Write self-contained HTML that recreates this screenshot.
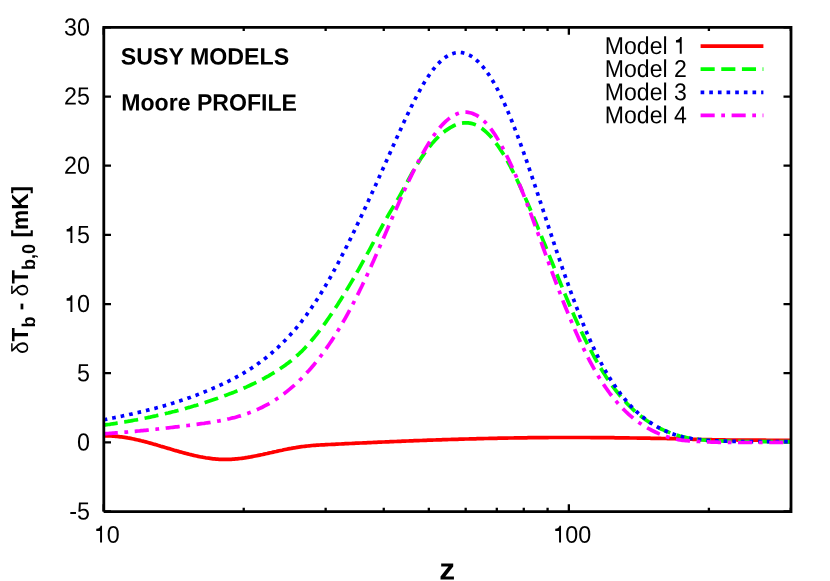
<!DOCTYPE html>
<html><head><meta charset="utf-8"><title>plot</title>
<style>
html,body{margin:0;padding:0;background:#fff;}
svg{display:block;}
text{font-family:"Liberation Sans",sans-serif;font-size:23.3px;fill:#000;text-rendering:geometricPrecision;}
svg{will-change:transform;}
.b{font-weight:bold;}
</style></head><body>
<svg width="830" height="581" viewBox="0 0 830 581">
<rect x="0" y="0" width="830" height="581" fill="#ffffff"/>
<path d="M103.7,511.50h7.3 M790.8,511.50h-7.3 M103.7,442.34h7.3 M790.8,442.34h-7.3 M103.7,373.19h7.3 M790.8,373.19h-7.3 M103.7,304.03h7.3 M790.8,304.03h-7.3 M103.7,234.87h7.3 M790.8,234.87h-7.3 M103.7,165.71h7.3 M790.8,165.71h-7.3 M103.7,96.56h7.3 M790.8,96.56h-7.3 M103.7,27.40h7.3 M790.8,27.40h-7.3 M103.70,511.5v-7.3 M103.70,27.4v7.3 M243.73,511.5v-3.7 M243.73,27.4v3.7 M325.64,511.5v-3.7 M325.64,27.4v3.7 M383.76,511.5v-3.7 M383.76,27.4v3.7 M428.83,511.5v-3.7 M428.83,27.4v3.7 M465.67,511.5v-3.7 M465.67,27.4v3.7 M496.81,511.5v-3.7 M496.81,27.4v3.7 M523.78,511.5v-3.7 M523.78,27.4v3.7 M547.58,511.5v-3.7 M547.58,27.4v3.7 M568.86,511.5v-7.3 M568.86,27.4v7.3 M708.89,511.5v-3.7 M708.89,27.4v3.7 M790.80,511.5v-3.7 M790.80,27.4v3.7" stroke="#000" stroke-width="2.3" fill="none"/>
<g>

<path d="M103.7,435.9 L105.2,435.9 L106.7,435.9 L108.2,435.9 L109.7,435.9 L111.2,436.0 L112.7,436.1 L114.2,436.2 L115.7,436.3 L117.2,436.4 L118.7,436.6 L120.2,436.8 L121.7,436.9 L123.2,437.2 L124.7,437.4 L126.2,437.6 L127.7,437.9 L129.2,438.1 L130.7,438.4 L132.2,438.7 L133.7,439.0 L135.2,439.4 L136.7,439.7 L138.2,440.0 L139.7,440.4 L141.2,440.8 L142.7,441.1 L144.2,441.5 L145.7,441.9 L147.2,442.3 L148.7,442.7 L150.2,443.1 L151.7,443.5 L153.2,444.0 L154.7,444.4 L156.2,444.8 L157.7,445.3 L159.2,445.7 L160.7,446.2 L162.2,446.6 L163.7,447.0 L165.2,447.5 L166.7,447.9 L168.2,448.4 L169.7,448.8 L171.2,449.3 L172.7,449.7 L174.2,450.2 L175.7,450.6 L177.2,451.0 L178.7,451.4 L180.2,451.9 L181.7,452.3 L183.2,452.7 L184.7,453.1 L186.2,453.5 L187.7,453.9 L189.2,454.3 L190.7,454.6 L192.2,455.0 L193.7,455.4 L195.2,455.7 L196.7,456.0 L198.2,456.4 L199.7,456.7 L201.2,457.0 L202.7,457.2 L204.2,457.5 L205.7,457.8 L207.2,458.0 L208.7,458.2 L210.2,458.4 L211.7,458.6 L213.2,458.8 L214.7,458.9 L216.2,459.1 L217.7,459.2 L219.2,459.3 L220.7,459.3 L222.2,459.4 L223.7,459.4 L225.2,459.4 L226.7,459.4 L228.2,459.4 L229.7,459.3 L231.2,459.3 L232.7,459.2 L234.2,459.1 L235.7,458.9 L237.2,458.8 L238.7,458.6 L240.2,458.5 L241.7,458.3 L243.2,458.1 L244.7,457.9 L246.2,457.6 L247.7,457.4 L249.2,457.1 L250.7,456.9 L252.2,456.6 L253.7,456.3 L255.2,456.0 L256.7,455.7 L258.2,455.4 L259.7,455.1 L261.2,454.8 L262.7,454.5 L264.2,454.1 L265.7,453.8 L267.2,453.5 L268.7,453.1 L270.2,452.8 L271.7,452.5 L273.2,452.1 L274.7,451.8 L276.2,451.5 L277.7,451.1 L279.2,450.8 L280.7,450.5 L282.2,450.2 L283.7,449.8 L285.2,449.5 L286.7,449.2 L288.2,448.9 L289.7,448.6 L291.2,448.4 L292.7,448.1 L294.2,447.8 L295.7,447.6 L297.2,447.3 L298.7,447.1 L300.2,446.9 L301.7,446.7 L303.2,446.5 L304.7,446.3 L306.2,446.1 L307.7,446.0 L309.2,445.8 L310.7,445.7 L312.2,445.5 L313.7,445.4 L315.2,445.3 L316.7,445.2 L318.2,445.1 L319.7,445.0 L321.2,444.9 L322.7,444.9 L324.2,444.8 L325.7,444.7 L327.2,444.6 L328.7,444.5 L330.2,444.5 L331.7,444.4 L333.2,444.3 L334.7,444.3 L336.2,444.2 L337.7,444.1 L339.2,444.0 L340.7,444.0 L342.2,443.9 L343.7,443.8 L345.2,443.7 L346.7,443.7 L348.2,443.6 L349.7,443.5 L351.2,443.5 L352.7,443.4 L354.2,443.3 L355.7,443.2 L357.2,443.2 L358.7,443.1 L360.2,443.0 L361.7,443.0 L363.2,442.9 L364.7,442.8 L366.2,442.8 L367.7,442.7 L369.2,442.6 L370.7,442.6 L372.2,442.5 L373.7,442.4 L375.2,442.4 L376.7,442.3 L378.2,442.2 L379.7,442.2 L381.2,442.1 L382.7,442.0 L384.2,442.0 L385.7,441.9 L387.2,441.8 L388.7,441.8 L390.2,441.7 L391.7,441.6 L393.2,441.6 L394.7,441.5 L396.2,441.5 L397.7,441.4 L399.2,441.3 L400.7,441.3 L402.2,441.2 L403.7,441.2 L405.2,441.1 L406.7,441.0 L408.2,441.0 L409.7,440.9 L411.2,440.9 L412.7,440.8 L414.2,440.7 L415.7,440.7 L417.2,440.6 L418.7,440.6 L420.2,440.5 L421.7,440.5 L423.2,440.4 L424.7,440.4 L426.2,440.3 L427.7,440.2 L429.2,440.2 L430.7,440.1 L432.2,440.1 L433.7,440.0 L435.2,440.0 L436.7,439.9 L438.2,439.9 L439.7,439.8 L441.2,439.8 L442.7,439.7 L444.2,439.7 L445.7,439.6 L447.2,439.6 L448.7,439.5 L450.2,439.5 L451.7,439.4 L453.2,439.4 L454.7,439.3 L456.2,439.3 L457.7,439.3 L459.2,439.2 L460.7,439.2 L462.2,439.1 L463.7,439.1 L465.2,439.0 L466.7,439.0 L468.2,439.0 L469.7,438.9 L471.2,438.9 L472.7,438.8 L474.2,438.8 L475.7,438.8 L477.2,438.7 L478.7,438.7 L480.2,438.6 L481.7,438.6 L483.2,438.6 L484.7,438.5 L486.2,438.5 L487.7,438.5 L489.2,438.4 L490.7,438.4 L492.2,438.4 L493.7,438.3 L495.2,438.3 L496.7,438.3 L498.2,438.2 L499.7,438.2 L501.2,438.2 L502.7,438.1 L504.2,438.1 L505.7,438.1 L507.2,438.1 L508.7,438.0 L510.2,438.0 L511.7,438.0 L513.2,438.0 L514.7,437.9 L516.2,437.9 L517.7,437.9 L519.2,437.9 L520.7,437.8 L522.2,437.8 L523.7,437.8 L525.2,437.8 L526.7,437.8 L528.2,437.7 L529.7,437.7 L531.2,437.7 L532.7,437.7 L534.2,437.7 L535.7,437.7 L537.2,437.6 L538.7,437.6 L540.2,437.6 L541.7,437.6 L543.2,437.6 L544.7,437.6 L546.2,437.6 L547.7,437.6 L549.2,437.5 L550.7,437.5 L552.2,437.5 L553.7,437.5 L555.2,437.5 L556.7,437.5 L558.2,437.5 L559.7,437.5 L561.2,437.5 L562.7,437.5 L564.2,437.5 L565.7,437.5 L567.2,437.5 L568.7,437.5 L570.2,437.5 L571.7,437.5 L573.2,437.5 L574.7,437.5 L576.2,437.5 L577.7,437.5 L579.2,437.5 L580.7,437.5 L582.2,437.5 L583.7,437.5 L585.2,437.5 L586.7,437.5 L588.2,437.5 L589.7,437.5 L591.2,437.6 L592.7,437.6 L594.2,437.6 L595.7,437.6 L597.2,437.6 L598.7,437.6 L600.2,437.6 L601.7,437.6 L603.2,437.6 L604.7,437.7 L606.2,437.7 L607.7,437.7 L609.2,437.7 L610.7,437.7 L612.2,437.7 L613.7,437.7 L615.2,437.8 L616.7,437.8 L618.2,437.8 L619.7,437.8 L621.2,437.8 L622.7,437.9 L624.2,437.9 L625.7,437.9 L627.2,437.9 L628.7,437.9 L630.2,438.0 L631.7,438.0 L633.2,438.0 L634.7,438.0 L636.2,438.0 L637.7,438.1 L639.2,438.1 L640.7,438.1 L642.2,438.1 L643.7,438.2 L645.2,438.2 L646.7,438.2 L648.2,438.2 L649.7,438.2 L651.2,438.3 L652.7,438.3 L654.2,438.3 L655.7,438.3 L657.2,438.4 L658.7,438.4 L660.2,438.4 L661.7,438.5 L663.2,438.5 L664.7,438.5 L666.2,438.5 L667.7,438.6 L669.2,438.6 L670.7,438.6 L672.2,438.6 L673.7,438.7 L675.2,438.7 L676.7,438.8 L678.2,438.8 L679.7,438.8 L681.2,438.9 L682.7,438.9 L684.2,439.0 L685.7,439.0 L687.2,439.1 L688.7,439.1 L690.2,439.2 L691.7,439.2 L693.2,439.3 L694.7,439.3 L696.2,439.4 L697.7,439.4 L699.2,439.5 L700.7,439.5 L702.2,439.5 L703.7,439.6 L705.2,439.6 L706.7,439.6 L708.2,439.7 L709.7,439.7 L711.2,439.7 L712.7,439.8 L714.2,439.8 L715.7,439.8 L717.2,439.9 L718.7,439.9 L720.2,439.9 L721.7,439.9 L723.2,439.9 L724.7,439.9 L726.2,440.0 L727.7,440.0 L729.2,440.0 L730.7,440.0 L732.2,440.0 L733.7,440.0 L735.2,440.0 L736.7,440.0 L738.2,440.1 L739.7,440.1 L741.2,440.1 L742.7,440.1 L744.2,440.1 L745.7,440.1 L747.2,440.1 L748.7,440.1 L750.2,440.1 L751.7,440.2 L753.2,440.2 L754.7,440.2 L756.2,440.2 L757.7,440.2 L759.2,440.2 L760.7,440.2 L762.2,440.2 L763.7,440.2 L765.2,440.2 L766.7,440.3 L768.2,440.3 L769.7,440.3 L771.2,440.3 L772.7,440.3 L774.2,440.3 L775.7,440.3 L777.2,440.3 L778.7,440.3 L780.2,440.3 L781.7,440.3 L783.2,440.4 L784.7,440.4 L786.2,440.4 L787.7,440.4 L789.2,440.4 L790.7,440.4 L790.8,440.4" fill="none" stroke="#ff0000" stroke-width="3.7" stroke-linejoin="round"/>
<path d="M103.7,425.1 L105.2,424.9 L106.7,424.7 L108.2,424.5 L109.7,424.3 L111.2,424.0 L112.7,423.8 L114.2,423.6 L115.7,423.4 L117.2,423.1 L118.7,422.9 L120.2,422.6 L121.7,422.4 L123.2,422.1 L124.7,421.9 L126.2,421.6 L127.7,421.4 L129.2,421.1 L130.7,420.9 L132.2,420.6 L133.7,420.3 L135.2,420.0 L136.7,419.8 L138.2,419.5 L139.7,419.2 L141.2,418.9 L142.7,418.6 L144.2,418.3 L145.7,418.0 L147.2,417.7 L148.7,417.4 L150.2,417.1 L151.7,416.7 L153.2,416.4 L154.7,416.1 L156.2,415.8 L157.7,415.4 L159.2,415.1 L160.7,414.7 L162.2,414.4 L163.7,414.1 L165.2,413.7 L166.7,413.3 L168.2,413.0 L169.7,412.6 L171.2,412.2 L172.7,411.8 L174.2,411.5 L175.7,411.1 L177.2,410.7 L178.7,410.3 L180.2,409.9 L181.7,409.5 L183.2,409.1 L184.7,408.7 L186.2,408.2 L187.7,407.8 L189.2,407.4 L190.7,407.0 L192.2,406.5 L193.7,406.1 L195.2,405.6 L196.7,405.2 L198.2,404.7 L199.7,404.2 L201.2,403.8 L202.7,403.3 L204.2,402.8 L205.7,402.3 L207.2,401.8 L208.7,401.3 L210.2,400.8 L211.7,400.3 L213.2,399.8 L214.7,399.3 L216.2,398.8 L217.7,398.3 L219.2,397.7 L220.7,397.2 L222.2,396.6 L223.7,396.1 L225.2,395.5 L226.7,395.0 L228.2,394.4 L229.7,393.8 L231.2,393.3 L232.7,392.7 L234.2,392.1 L235.7,391.5 L237.2,390.9 L238.7,390.3 L240.2,389.6 L241.7,389.0 L243.2,388.4 L244.7,387.7 L246.2,387.1 L247.7,386.4 L249.2,385.7 L250.7,385.0 L252.2,384.3 L253.7,383.6 L255.2,382.9 L256.7,382.2 L258.2,381.4 L259.7,380.6 L261.2,379.9 L262.7,379.1 L264.2,378.3 L265.7,377.4 L267.2,376.6 L268.7,375.8 L270.2,374.9 L271.7,374.0 L273.2,373.1 L274.7,372.2 L276.2,371.2 L277.7,370.3 L279.2,369.3 L280.7,368.3 L282.2,367.3 L283.7,366.3 L285.2,365.2 L286.7,364.1 L288.2,363.0 L289.7,361.8 L291.2,360.7 L292.7,359.4 L294.2,358.2 L295.7,356.9 L297.2,355.5 L298.7,354.2 L300.2,352.7 L301.7,351.3 L303.2,349.8 L304.7,348.2 L306.2,346.6 L307.7,345.0 L309.2,343.3 L310.7,341.6 L312.2,339.8 L313.7,338.0 L315.2,336.2 L316.7,334.3 L318.2,332.4 L319.7,330.4 L321.2,328.4 L322.7,326.4 L324.2,324.4 L325.7,322.3 L327.2,320.2 L328.7,318.0 L330.2,315.8 L331.7,313.6 L333.2,311.4 L334.7,309.1 L336.2,306.8 L337.7,304.5 L339.2,302.1 L340.7,299.7 L342.2,297.3 L343.7,294.9 L345.2,292.4 L346.7,289.9 L348.2,287.4 L349.7,284.9 L351.2,282.4 L352.7,279.8 L354.2,277.2 L355.7,274.6 L357.2,271.9 L358.7,269.3 L360.2,266.6 L361.7,263.9 L363.2,261.2 L364.7,258.5 L366.2,255.8 L367.7,253.0 L369.2,250.3 L370.7,247.5 L372.2,244.7 L373.7,241.9 L375.2,239.1 L376.7,236.3 L378.2,233.5 L379.7,230.7 L381.2,228.0 L382.7,225.2 L384.2,222.5 L385.7,219.8 L387.2,217.1 L388.7,214.5 L390.2,211.9 L391.7,209.4 L393.2,206.9 L394.7,204.5 L396.2,202.0 L397.7,199.4 L399.2,196.8 L400.7,194.1 L402.2,191.4 L403.7,188.6 L405.2,185.8 L406.7,183.0 L408.2,180.2 L409.7,177.5 L411.2,174.7 L412.7,172.0 L414.2,169.4 L415.7,166.8 L417.2,164.3 L418.7,161.9 L420.2,159.6 L421.7,157.3 L423.2,155.1 L424.7,153.0 L426.2,150.9 L427.7,149.0 L429.2,147.0 L430.7,145.2 L432.2,143.4 L433.7,141.7 L435.2,140.1 L436.7,138.5 L438.2,137.0 L439.7,135.6 L441.2,134.3 L442.7,133.0 L444.2,131.8 L445.7,130.6 L447.2,129.6 L448.7,128.6 L450.2,127.6 L451.7,126.8 L453.2,126.0 L454.7,125.3 L456.2,124.7 L457.7,124.1 L459.2,123.7 L460.7,123.3 L462.2,123.1 L463.7,122.9 L465.2,122.8 L466.7,122.8 L468.2,122.9 L469.7,123.1 L471.2,123.4 L472.7,123.8 L474.2,124.3 L475.7,124.9 L477.2,125.6 L478.7,126.4 L480.2,127.3 L481.7,128.3 L483.2,129.5 L484.7,130.7 L486.2,132.0 L487.7,133.5 L489.2,135.0 L490.7,136.6 L492.2,138.4 L493.7,140.2 L495.2,142.1 L496.7,144.1 L498.2,146.2 L499.7,148.4 L501.2,150.7 L502.7,153.1 L504.2,155.5 L505.7,158.1 L507.2,160.7 L508.7,163.4 L510.2,166.2 L511.7,169.1 L513.2,172.0 L514.7,175.0 L516.2,178.1 L517.7,181.2 L519.2,184.4 L520.7,187.6 L522.2,190.9 L523.7,194.3 L525.2,197.6 L526.7,201.1 L528.2,204.5 L529.7,208.0 L531.2,211.5 L532.7,215.1 L534.2,218.7 L535.7,222.3 L537.2,225.9 L538.7,229.6 L540.2,233.2 L541.7,236.9 L543.2,240.6 L544.7,244.3 L546.2,248.0 L547.7,251.7 L549.2,255.4 L550.7,259.1 L552.2,262.8 L553.7,266.5 L555.2,270.2 L556.7,273.9 L558.2,277.6 L559.7,281.3 L561.2,285.0 L562.7,288.7 L564.2,292.3 L565.7,295.9 L567.2,299.5 L568.7,303.0 L570.2,306.6 L571.7,310.1 L573.2,313.5 L574.7,316.9 L576.2,320.3 L577.7,323.6 L579.2,326.9 L580.7,330.1 L582.2,333.3 L583.7,336.4 L585.2,339.5 L586.7,342.5 L588.2,345.4 L589.7,348.4 L591.2,351.2 L592.7,354.0 L594.2,356.8 L595.7,359.5 L597.2,362.1 L598.7,364.7 L600.2,367.3 L601.7,369.8 L603.2,372.2 L604.7,374.6 L606.2,376.9 L607.7,379.1 L609.2,381.3 L610.7,383.5 L612.2,385.6 L613.7,387.6 L615.2,389.6 L616.7,391.5 L618.2,393.4 L619.7,395.2 L621.2,397.0 L622.7,398.8 L624.2,400.4 L625.7,402.1 L627.2,403.7 L628.7,405.2 L630.2,406.7 L631.7,408.2 L633.2,409.6 L634.7,411.0 L636.2,412.3 L637.7,413.6 L639.2,414.8 L640.7,416.0 L642.2,417.2 L643.7,418.3 L645.2,419.4 L646.7,420.5 L648.2,421.5 L649.7,422.5 L651.2,423.4 L652.7,424.3 L654.2,425.2 L655.7,426.1 L657.2,426.9 L658.7,427.7 L660.2,428.5 L661.7,429.2 L663.2,429.9 L664.7,430.6 L666.2,431.2 L667.7,431.8 L669.2,432.4 L670.7,433.0 L672.2,433.6 L673.7,434.1 L675.2,434.6 L676.7,435.1 L678.2,435.5 L679.7,436.0 L681.2,436.3 L682.7,436.7 L684.2,437.0 L685.7,437.4 L687.2,437.7 L688.7,438.0 L690.2,438.3 L691.7,438.5 L693.2,438.8 L694.7,439.0 L696.2,439.2 L697.7,439.4 L699.2,439.5 L700.7,439.7 L702.2,439.9 L703.7,440.0 L705.2,440.2 L706.7,440.3 L708.2,440.4 L709.7,440.5 L711.2,440.6 L712.7,440.6 L714.2,440.7 L715.7,440.8 L717.2,440.8 L718.7,440.9 L720.2,441.0 L721.7,441.0 L723.2,441.1 L724.7,441.1 L726.2,441.2 L727.7,441.2 L729.2,441.2 L730.7,441.3 L732.2,441.3 L733.7,441.3 L735.2,441.4 L736.7,441.4 L738.2,441.4 L739.7,441.4 L741.2,441.5 L742.7,441.5 L744.2,441.5 L745.7,441.5 L747.2,441.5 L748.7,441.6 L750.2,441.6 L751.7,441.6 L753.2,441.6 L754.7,441.6 L756.2,441.6 L757.7,441.6 L759.2,441.6 L760.7,441.6 L762.2,441.6 L763.7,441.6 L765.2,441.6 L766.7,441.6 L768.2,441.6 L769.7,441.6 L771.2,441.6 L772.7,441.6 L774.2,441.6 L775.7,441.6 L777.2,441.6 L778.7,441.6 L780.2,441.6 L781.7,441.6 L783.2,441.6 L784.7,441.6 L786.2,441.6 L787.7,441.6 L789.2,441.6 L790.7,441.6 L790.8,441.6" fill="none" stroke="#00ff00" stroke-width="3.7" stroke-dasharray="14.15 6.57"/>
<path d="M103.7,419.8 L105.2,419.5 L106.7,419.2 L108.2,418.9 L109.7,418.6 L111.2,418.3 L112.7,418.0 L114.2,417.7 L115.7,417.4 L117.2,417.1 L118.7,416.8 L120.2,416.5 L121.7,416.2 L123.2,415.8 L124.7,415.5 L126.2,415.2 L127.7,414.9 L129.2,414.5 L130.7,414.2 L132.2,413.9 L133.7,413.5 L135.2,413.2 L136.7,412.8 L138.2,412.5 L139.7,412.1 L141.2,411.8 L142.7,411.4 L144.2,411.0 L145.7,410.7 L147.2,410.3 L148.7,409.9 L150.2,409.5 L151.7,409.1 L153.2,408.7 L154.7,408.4 L156.2,407.9 L157.7,407.5 L159.2,407.1 L160.7,406.7 L162.2,406.3 L163.7,405.9 L165.2,405.4 L166.7,405.0 L168.2,404.5 L169.7,404.1 L171.2,403.6 L172.7,403.2 L174.2,402.7 L175.7,402.2 L177.2,401.8 L178.7,401.3 L180.2,400.8 L181.7,400.3 L183.2,399.8 L184.7,399.3 L186.2,398.8 L187.7,398.2 L189.2,397.7 L190.7,397.2 L192.2,396.6 L193.7,396.1 L195.2,395.5 L196.7,395.0 L198.2,394.4 L199.7,393.8 L201.2,393.2 L202.7,392.6 L204.2,392.0 L205.7,391.4 L207.2,390.8 L208.7,390.2 L210.2,389.6 L211.7,388.9 L213.2,388.3 L214.7,387.6 L216.2,387.0 L217.7,386.3 L219.2,385.6 L220.7,384.9 L222.2,384.2 L223.7,383.5 L225.2,382.8 L226.7,382.1 L228.2,381.4 L229.7,380.6 L231.2,379.9 L232.7,379.1 L234.2,378.3 L235.7,377.5 L237.2,376.7 L238.7,375.9 L240.2,375.0 L241.7,374.2 L243.2,373.3 L244.7,372.4 L246.2,371.5 L247.7,370.6 L249.2,369.6 L250.7,368.7 L252.2,367.7 L253.7,366.7 L255.2,365.7 L256.7,364.7 L258.2,363.6 L259.7,362.5 L261.2,361.4 L262.7,360.3 L264.2,359.1 L265.7,358.0 L267.2,356.8 L268.7,355.5 L270.2,354.3 L271.7,353.0 L273.2,351.7 L274.7,350.4 L276.2,349.0 L277.7,347.7 L279.2,346.2 L280.7,344.8 L282.2,343.3 L283.7,341.8 L285.2,340.3 L286.7,338.7 L288.2,337.1 L289.7,335.5 L291.2,333.8 L292.7,332.1 L294.2,330.4 L295.7,328.7 L297.2,326.9 L298.7,325.0 L300.2,323.2 L301.7,321.3 L303.2,319.3 L304.7,317.3 L306.2,315.3 L307.7,313.2 L309.2,311.2 L310.7,309.0 L312.2,306.8 L313.7,304.6 L315.2,302.4 L316.7,300.1 L318.2,297.7 L319.7,295.3 L321.2,292.9 L322.7,290.4 L324.2,287.9 L325.7,285.4 L327.2,282.8 L328.7,280.2 L330.2,277.6 L331.7,274.9 L333.2,272.2 L334.7,269.4 L336.2,266.6 L337.7,263.8 L339.2,261.0 L340.7,258.1 L342.2,255.2 L343.7,252.3 L345.2,249.3 L346.7,246.3 L348.2,243.3 L349.7,240.3 L351.2,237.3 L352.7,234.2 L354.2,231.1 L355.7,228.0 L357.2,224.8 L358.7,221.7 L360.2,218.5 L361.7,215.3 L363.2,212.1 L364.7,208.9 L366.2,205.7 L367.7,202.4 L369.2,199.1 L370.7,195.9 L372.2,192.6 L373.7,189.3 L375.2,186.0 L376.7,182.7 L378.2,179.3 L379.7,176.0 L381.2,172.7 L382.7,169.3 L384.2,166.0 L385.7,162.6 L387.2,159.3 L388.7,155.9 L390.2,152.5 L391.7,149.2 L393.2,145.8 L394.7,142.5 L396.2,139.1 L397.7,135.8 L399.2,132.5 L400.7,129.2 L402.2,125.9 L403.7,122.6 L405.2,119.4 L406.7,116.2 L408.2,113.1 L409.7,110.0 L411.2,106.9 L412.7,103.9 L414.2,100.9 L415.7,98.0 L417.2,95.2 L418.7,92.4 L420.2,89.7 L421.7,87.0 L423.2,84.4 L424.7,81.9 L426.2,79.5 L427.7,77.2 L429.2,75.0 L430.7,72.8 L432.2,70.8 L433.7,68.8 L435.2,67.0 L436.7,65.3 L438.2,63.6 L439.7,62.1 L441.2,60.7 L442.7,59.4 L444.2,58.2 L445.7,57.1 L447.2,56.2 L448.7,55.3 L450.2,54.6 L451.7,53.9 L453.2,53.4 L454.7,53.0 L456.2,52.7 L457.7,52.6 L459.2,52.5 L460.7,52.5 L462.2,52.7 L463.7,53.0 L465.2,53.4 L466.7,53.9 L468.2,54.6 L469.7,55.3 L471.2,56.2 L472.7,57.1 L474.2,58.2 L475.7,59.4 L477.2,60.8 L478.7,62.2 L480.2,63.7 L481.7,65.4 L483.2,67.1 L484.7,69.0 L486.2,71.0 L487.7,73.1 L489.2,75.2 L490.7,77.6 L492.2,80.0 L493.7,82.5 L495.2,85.1 L496.7,87.8 L498.2,90.7 L499.7,93.6 L501.2,96.6 L502.7,99.8 L504.2,103.0 L505.7,106.4 L507.2,109.8 L508.7,113.4 L510.2,117.0 L511.7,120.7 L513.2,124.4 L514.7,128.3 L516.2,132.2 L517.7,136.2 L519.2,140.2 L520.7,144.3 L522.2,148.5 L523.7,152.7 L525.2,156.9 L526.7,161.2 L528.2,165.6 L529.7,170.0 L531.2,174.4 L532.7,178.8 L534.2,183.3 L535.7,187.8 L537.2,192.3 L538.7,196.8 L540.2,201.4 L541.7,205.9 L543.2,210.5 L544.7,215.1 L546.2,219.6 L547.7,224.2 L549.2,228.8 L550.7,233.3 L552.2,237.8 L553.7,242.4 L555.2,246.9 L556.7,251.4 L558.2,255.8 L559.7,260.2 L561.2,264.6 L562.7,269.0 L564.2,273.3 L565.7,277.6 L567.2,281.8 L568.7,286.0 L570.2,290.2 L571.7,294.3 L573.2,298.4 L574.7,302.4 L576.2,306.3 L577.7,310.2 L579.2,314.1 L580.7,317.8 L582.2,321.6 L583.7,325.3 L585.2,328.9 L586.7,332.4 L588.2,335.9 L589.7,339.3 L591.2,342.7 L592.7,345.9 L594.2,349.1 L595.7,352.3 L597.2,355.3 L598.7,358.3 L600.2,361.2 L601.7,364.1 L603.2,366.8 L604.7,369.5 L606.2,372.1 L607.7,374.7 L609.2,377.2 L610.7,379.6 L612.2,381.9 L613.7,384.2 L615.2,386.4 L616.7,388.6 L618.2,390.7 L619.7,392.7 L621.2,394.7 L622.7,396.6 L624.2,398.4 L625.7,400.2 L627.2,402.0 L628.7,403.6 L630.2,405.3 L631.7,406.9 L633.2,408.4 L634.7,409.9 L636.2,411.3 L637.7,412.7 L639.2,414.0 L640.7,415.3 L642.2,416.5 L643.7,417.7 L645.2,418.9 L646.7,420.0 L648.2,421.1 L649.7,422.1 L651.2,423.1 L652.7,424.1 L654.2,425.0 L655.7,425.9 L657.2,426.8 L658.7,427.6 L660.2,428.4 L661.7,429.2 L663.2,429.9 L664.7,430.6 L666.2,431.3 L667.7,432.0 L669.2,432.6 L670.7,433.2 L672.2,433.8 L673.7,434.3 L675.2,434.8 L676.7,435.3 L678.2,435.7 L679.7,436.1 L681.2,436.5 L682.7,436.9 L684.2,437.2 L685.7,437.5 L687.2,437.8 L688.7,438.1 L690.2,438.3 L691.7,438.6 L693.2,438.8 L694.7,439.0 L696.2,439.2 L697.7,439.4 L699.2,439.6 L700.7,439.7 L702.2,439.9 L703.7,440.0 L705.2,440.2 L706.7,440.3 L708.2,440.4 L709.7,440.5 L711.2,440.6 L712.7,440.6 L714.2,440.7 L715.7,440.8 L717.2,440.8 L718.7,440.9 L720.2,441.0 L721.7,441.0 L723.2,441.1 L724.7,441.1 L726.2,441.2 L727.7,441.2 L729.2,441.2 L730.7,441.3 L732.2,441.3 L733.7,441.3 L735.2,441.4 L736.7,441.4 L738.2,441.4 L739.7,441.4 L741.2,441.5 L742.7,441.5 L744.2,441.5 L745.7,441.5 L747.2,441.5 L748.7,441.6 L750.2,441.6 L751.7,441.6 L753.2,441.6 L754.7,441.6 L756.2,441.6 L757.7,441.6 L759.2,441.6 L760.7,441.6 L762.2,441.6 L763.7,441.6 L765.2,441.6 L766.7,441.6 L768.2,441.6 L769.7,441.6 L771.2,441.6 L772.7,441.6 L774.2,441.6 L775.7,441.6 L777.2,441.6 L778.7,441.6 L780.2,441.6 L781.7,441.6 L783.2,441.6 L784.7,441.6 L786.2,441.6 L787.7,441.6 L789.2,441.6 L790.7,441.6 L790.8,441.6" fill="none" stroke="#0000ff" stroke-width="3.7" stroke-dasharray="3.65 5.0"/>
<path d="M103.7,433.8 L105.2,433.7 L106.7,433.6 L108.2,433.5 L109.7,433.4 L111.2,433.3 L112.7,433.2 L114.2,433.1 L115.7,432.9 L117.2,432.8 L118.7,432.7 L120.2,432.6 L121.7,432.5 L123.2,432.3 L124.7,432.2 L126.2,432.1 L127.7,432.0 L129.2,431.8 L130.7,431.7 L132.2,431.6 L133.7,431.4 L135.2,431.3 L136.7,431.1 L138.2,431.0 L139.7,430.9 L141.2,430.7 L142.7,430.6 L144.2,430.4 L145.7,430.3 L147.2,430.1 L148.7,430.0 L150.2,429.8 L151.7,429.7 L153.2,429.5 L154.7,429.3 L156.2,429.2 L157.7,429.0 L159.2,428.8 L160.7,428.7 L162.2,428.5 L163.7,428.3 L165.2,428.2 L166.7,428.0 L168.2,427.8 L169.7,427.7 L171.2,427.5 L172.7,427.3 L174.2,427.1 L175.7,426.9 L177.2,426.8 L178.7,426.6 L180.2,426.4 L181.7,426.2 L183.2,426.0 L184.7,425.8 L186.2,425.6 L187.7,425.5 L189.2,425.3 L190.7,425.1 L192.2,424.9 L193.7,424.7 L195.2,424.5 L196.7,424.3 L198.2,424.1 L199.7,423.9 L201.2,423.7 L202.7,423.5 L204.2,423.3 L205.7,423.0 L207.2,422.8 L208.7,422.6 L210.2,422.4 L211.7,422.1 L213.2,421.9 L214.7,421.7 L216.2,421.4 L217.7,421.1 L219.2,420.9 L220.7,420.6 L222.2,420.3 L223.7,420.0 L225.2,419.7 L226.7,419.4 L228.2,419.0 L229.7,418.7 L231.2,418.3 L232.7,417.9 L234.2,417.6 L235.7,417.2 L237.2,416.7 L238.7,416.3 L240.2,415.9 L241.7,415.4 L243.2,414.9 L244.7,414.4 L246.2,413.9 L247.7,413.4 L249.2,412.8 L250.7,412.3 L252.2,411.7 L253.7,411.1 L255.2,410.5 L256.7,409.8 L258.2,409.1 L259.7,408.4 L261.2,407.7 L262.7,407.0 L264.2,406.2 L265.7,405.4 L267.2,404.6 L268.7,403.8 L270.2,402.9 L271.7,402.0 L273.2,401.1 L274.7,400.2 L276.2,399.2 L277.7,398.2 L279.2,397.2 L280.7,396.1 L282.2,395.0 L283.7,393.9 L285.2,392.8 L286.7,391.6 L288.2,390.4 L289.7,389.2 L291.2,387.9 L292.7,386.6 L294.2,385.3 L295.7,383.9 L297.2,382.5 L298.7,381.1 L300.2,379.7 L301.7,378.2 L303.2,376.6 L304.7,375.1 L306.2,373.5 L307.7,371.8 L309.2,370.2 L310.7,368.5 L312.2,366.7 L313.7,365.0 L315.2,363.1 L316.7,361.3 L318.2,359.4 L319.7,357.5 L321.2,355.5 L322.7,353.5 L324.2,351.4 L325.7,349.3 L327.2,347.2 L328.7,345.0 L330.2,342.8 L331.7,340.6 L333.2,338.3 L334.7,335.9 L336.2,333.5 L337.7,331.1 L339.2,328.6 L340.7,326.1 L342.2,323.5 L343.7,320.9 L345.2,318.3 L346.7,315.6 L348.2,312.9 L349.7,310.1 L351.2,307.3 L352.7,304.4 L354.2,301.5 L355.7,298.6 L357.2,295.6 L358.7,292.6 L360.2,289.5 L361.7,286.5 L363.2,283.3 L364.7,280.2 L366.2,277.0 L367.7,273.7 L369.2,270.5 L370.7,267.2 L372.2,263.8 L373.7,260.5 L375.2,257.1 L376.7,253.7 L378.2,250.3 L379.7,246.8 L381.2,243.4 L382.7,239.9 L384.2,236.4 L385.7,233.0 L387.2,229.5 L388.7,226.0 L390.2,222.6 L391.7,219.1 L393.2,215.6 L394.7,212.2 L396.2,208.8 L397.7,205.4 L399.2,202.0 L400.7,198.6 L402.2,195.3 L403.7,191.9 L405.2,188.6 L406.7,185.4 L408.2,182.2 L409.7,179.0 L411.2,175.9 L412.7,172.8 L414.2,169.7 L415.7,166.7 L417.2,163.8 L418.7,160.9 L420.2,158.1 L421.7,155.3 L423.2,152.6 L424.7,150.0 L426.2,147.4 L427.7,144.9 L429.2,142.5 L430.7,140.1 L432.2,137.8 L433.7,135.6 L435.2,133.5 L436.7,131.5 L438.2,129.6 L439.7,127.8 L441.2,126.0 L442.7,124.4 L444.2,122.9 L445.7,121.4 L447.2,120.1 L448.7,118.9 L450.2,117.7 L451.7,116.7 L453.2,115.8 L454.7,114.9 L456.2,114.2 L457.7,113.6 L459.2,113.1 L460.7,112.7 L462.2,112.4 L463.7,112.3 L465.2,112.2 L466.7,112.2 L468.2,112.4 L469.7,112.7 L471.2,113.0 L472.7,113.5 L474.2,114.2 L475.7,114.9 L477.2,115.7 L478.7,116.7 L480.2,117.8 L481.7,119.0 L483.2,120.3 L484.7,121.7 L486.2,123.3 L487.7,124.9 L489.2,126.7 L490.7,128.7 L492.2,130.7 L493.7,132.8 L495.2,135.1 L496.7,137.4 L498.2,139.9 L499.7,142.4 L501.2,145.1 L502.7,147.8 L504.2,150.7 L505.7,153.6 L507.2,156.7 L508.7,159.8 L510.2,163.0 L511.7,166.3 L513.2,169.6 L514.7,173.1 L516.2,176.6 L517.7,180.2 L519.2,183.8 L520.7,187.5 L522.2,191.3 L523.7,195.1 L525.2,199.0 L526.7,202.9 L528.2,206.8 L529.7,210.8 L531.2,214.9 L532.7,218.9 L534.2,223.0 L535.7,227.1 L537.2,231.2 L538.7,235.3 L540.2,239.5 L541.7,243.6 L543.2,247.8 L544.7,251.9 L546.2,256.0 L547.7,260.2 L549.2,264.3 L550.7,268.4 L552.2,272.5 L553.7,276.5 L555.2,280.5 L556.7,284.5 L558.2,288.5 L559.7,292.4 L561.2,296.3 L562.7,300.2 L564.2,304.0 L565.7,307.7 L567.2,311.4 L568.7,315.1 L570.2,318.7 L571.7,322.3 L573.2,325.8 L574.7,329.3 L576.2,332.7 L577.7,336.1 L579.2,339.4 L580.7,342.6 L582.2,345.8 L583.7,348.9 L585.2,352.0 L586.7,355.0 L588.2,357.9 L589.7,360.8 L591.2,363.6 L592.7,366.4 L594.2,369.1 L595.7,371.7 L597.2,374.3 L598.7,376.8 L600.2,379.2 L601.7,381.6 L603.2,383.9 L604.7,386.1 L606.2,388.3 L607.7,390.4 L609.2,392.5 L610.7,394.5 L612.2,396.4 L613.7,398.3 L615.2,400.2 L616.7,401.9 L618.2,403.7 L619.7,405.3 L621.2,406.9 L622.7,408.5 L624.2,410.0 L625.7,411.5 L627.2,412.9 L628.7,414.3 L630.2,415.6 L631.7,416.9 L633.2,418.2 L634.7,419.4 L636.2,420.5 L637.7,421.6 L639.2,422.7 L640.7,423.7 L642.2,424.7 L643.7,425.7 L645.2,426.6 L646.7,427.5 L648.2,428.4 L649.7,429.2 L651.2,430.0 L652.7,430.8 L654.2,431.5 L655.7,432.2 L657.2,432.9 L658.7,433.6 L660.2,434.2 L661.7,434.8 L663.2,435.4 L664.7,435.9 L666.2,436.4 L667.7,436.9 L669.2,437.4 L670.7,437.8 L672.2,438.2 L673.7,438.6 L675.2,439.0 L676.7,439.3 L678.2,439.6 L679.7,439.8 L681.2,440.1 L682.7,440.3 L684.2,440.4 L685.7,440.6 L687.2,440.7 L688.7,440.8 L690.2,440.9 L691.7,441.0 L693.2,441.1 L694.7,441.2 L696.2,441.3 L697.7,441.4 L699.2,441.5 L700.7,441.6 L702.2,441.7 L703.7,441.7 L705.2,441.8 L706.7,441.9 L708.2,441.9 L709.7,442.0 L711.2,442.1 L712.7,442.1 L714.2,442.2 L715.7,442.2 L717.2,442.2 L718.7,442.3 L720.2,442.3 L721.7,442.3 L723.2,442.3 L724.7,442.4 L726.2,442.4 L727.7,442.4 L729.2,442.4 L730.7,442.4 L732.2,442.4 L733.7,442.5 L735.2,442.5 L736.7,442.5 L738.2,442.5 L739.7,442.5 L741.2,442.5 L742.7,442.5 L744.2,442.5 L745.7,442.5 L747.2,442.5 L748.7,442.5 L750.2,442.5 L751.7,442.5 L753.2,442.5 L754.7,442.5 L756.2,442.5 L757.7,442.5 L759.2,442.5 L760.7,442.5 L762.2,442.5 L763.7,442.5 L765.2,442.5 L766.7,442.5 L768.2,442.5 L769.7,442.5 L771.2,442.5 L772.7,442.5 L774.2,442.4 L775.7,442.4 L777.2,442.4 L778.7,442.4 L780.2,442.4 L781.7,442.4 L783.2,442.4 L784.7,442.4 L786.2,442.4 L787.7,442.3 L789.2,442.3 L790.7,442.3 L790.8,442.3" fill="none" stroke="#ff00ff" stroke-width="3.7" stroke-dasharray="14.15 6.6 3.78 6.6"/>

</g>
<path d="M103.80,511.60 V27.4 H791.00 V511.60 H103.80" fill="none" stroke="#000" stroke-width="2.8" stroke-linejoin="miter" stroke-linecap="butt"/>
<g>
<text transform="translate(90.00,519.55) rotate(0.03) scale(1.0,1.06)" text-anchor="end">-5</text>
<text transform="translate(90.00,450.39) rotate(0.03) scale(1.0,1.06)" text-anchor="end">0</text>
<text transform="translate(90.00,381.24) rotate(0.03) scale(1.0,1.06)" text-anchor="end">5</text>
<text transform="translate(90.00,312.08) rotate(0.03) scale(1.0,1.06)" text-anchor="end">0</text>
<path d="M70.42,312.08 L72.38,312.08 L72.38,295.28 L70.93,295.28 C70.65,296.75 69.60,298.23 66.63,298.37 L66.63,300.68 L70.42,300.68 Z" fill="#000"/>
<text transform="translate(90.00,242.92) rotate(0.03) scale(1.0,1.06)" text-anchor="end">5</text>
<path d="M70.42,242.92 L72.38,242.92 L72.38,226.12 L70.93,226.12 C70.65,227.59 69.60,229.07 66.63,229.21 L66.63,231.53 L70.42,231.53 Z" fill="#000"/>
<text transform="translate(90.00,173.76) rotate(0.03) scale(1.0,1.06)" text-anchor="end">20</text>
<text transform="translate(90.00,104.61) rotate(0.03) scale(1.0,1.06)" text-anchor="end">25</text>
<text transform="translate(90.00,35.45) rotate(0.03) scale(1.0,1.06)" text-anchor="end">30</text>
<text transform="translate(119.76,542.70) rotate(0.03) scale(1.0,1.035)" text-anchor="end">0</text>
<path d="M100.08,542.50 L102.04,542.50 L102.04,525.70 L100.59,525.70 C100.31,527.17 99.26,528.65 96.28,528.79 L96.28,531.10 L100.08,531.10 Z" fill="#000"/>
<text transform="translate(591.20,542.70) rotate(0.03) scale(1.0,1.035)" text-anchor="end">00</text>
<path d="M559.06,542.50 L561.02,542.50 L561.02,525.70 L559.57,525.70 C559.29,527.17 558.24,528.65 555.27,528.79 L555.27,531.10 L559.06,531.10 Z" fill="#000"/>
</g>
<g>
<text transform="translate(604.80,53.95) rotate(0.03) scale(0.99,1.045)" text-anchor="start">Model</text>
<path d="M679.76,53.85 L681.72,53.85 L681.72,37.05 L680.27,37.05 C679.99,38.52 678.94,40.00 675.97,40.14 L675.97,42.45 L679.76,42.45 Z" fill="#000"/>
<path d="M700.6,46.1H763.4" stroke="#ff0000" stroke-width="3.7" fill="none"/>
<text transform="translate(604.80,77.05) rotate(0.03) scale(0.99,1.045)" text-anchor="start">Model 2</text>
<path d="M700.6,69.2H763.4" stroke="#00ff00" stroke-width="3.7" fill="none" stroke-dasharray="14.1 6.56"/>
<text transform="translate(604.80,100.15) rotate(0.03) scale(0.99,1.045)" text-anchor="start">Model 3</text>
<path d="M700.6,92.3H763.4" stroke="#0000ff" stroke-width="3.7" fill="none" stroke-dasharray="3.65 5.0"/>
<text transform="translate(604.80,123.25) rotate(0.03) scale(0.99,1.045)" text-anchor="start">Model 4</text>
<path d="M700.6,115.4H763.4" stroke="#ff00ff" stroke-width="3.7" fill="none" stroke-dasharray="14.1 6.55 3.75 6.6"/>
</g>
<text transform="translate(120.80,64.55) rotate(0.03) scale(0.995,1.015)" text-anchor="start" class="b">SUSY MODELS</text>
<text transform="translate(121.30,110.55) rotate(0.03) scale(0.99,1.015)" text-anchor="start" class="b">Moore PROFILE</text>
<text transform="translate(447.20,579.40) rotate(0.03) scale(1.04,1.0)" text-anchor="middle" class="b" style="font-size:30.5px">z</text>
<g transform="translate(28.4,354.0) rotate(-90) scale(0.972,1.0)">
<text class="b" x="0" y="0"><tspan style="font-weight:normal">δ</tspan>T<tspan dy="6.8" style="font-size:18.6px">b</tspan><tspan dy="-6.8"> - </tspan><tspan style="font-weight:normal">δ</tspan>T<tspan dy="6.8" style="font-size:18.6px">b,0</tspan><tspan dy="-6.8"> [mK]</tspan></text>
</g>
</svg>
</body></html>
